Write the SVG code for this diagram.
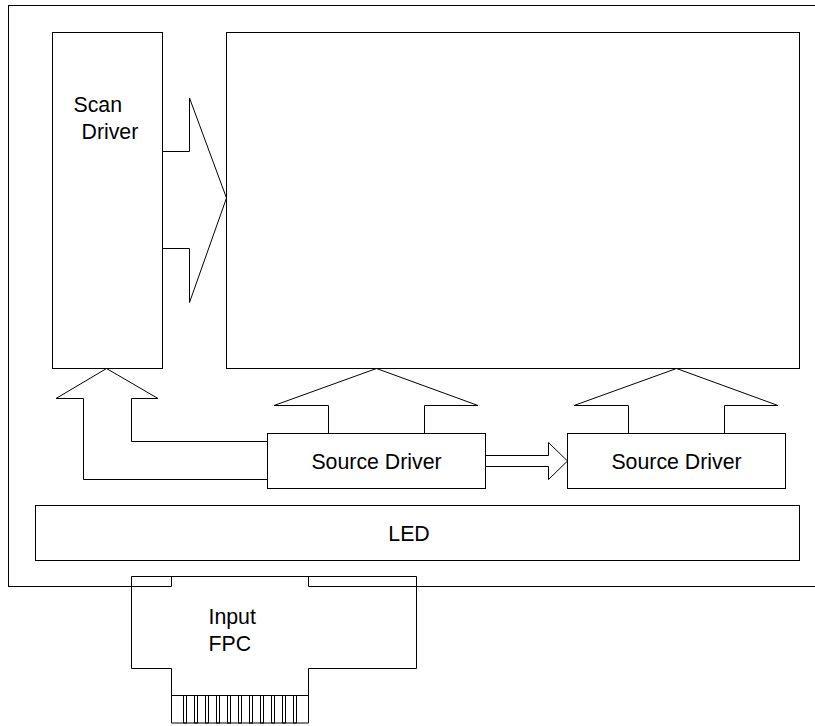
<svg xmlns="http://www.w3.org/2000/svg" width="815" height="726" viewBox="0 0 815 726">
<style>
.ln{fill:none;stroke:#000;stroke-width:1}
.box{fill:#fff;stroke:#000;stroke-width:1}
.t{font-family:"Liberation Sans",Arial,sans-serif;font-size:21.3px;fill:#000}
</style>
<rect width="815" height="726" fill="#fff"/>
<g id="frame">
<rect class="ln" x="8.5" y="5.5" width="830" height="581"/>
</g>
<g id="scan-driver">
<rect class="box" x="52.5" y="32.5" width="110" height="336"/>
<text class="t" x="73.5" y="111.5">Scan</text>
<text class="t" x="81.5" y="138.5">Driver</text>
</g>
<g id="panel">
<rect class="box" x="226.5" y="32.5" width="573" height="336"/>
</g>
<g id="source-driver-1">
<rect class="box" x="267.5" y="433.5" width="218" height="55"/>
<text class="t" x="376.5" y="468.5" text-anchor="middle">Source Driver</text>
</g>
<g id="source-driver-2">
<rect class="box" x="567.5" y="433.5" width="218" height="55"/>
<text class="t" x="676.5" y="468.5" text-anchor="middle">Source Driver</text>
</g>
<g id="led">
<rect class="box" x="35.5" y="505.5" width="764" height="55"/>
<text class="t" x="409" y="540.5" text-anchor="middle">LED</text>
</g>
<g id="input-fpc">
<path class="box" d="M131.5,576.5 H416.5 V668.5 H308.5 V723 H171.5 V668.5 H131.5 Z"/>
<path class="ln" d="M131.5,586.5 H171.5 V576.5 M308.5,576.5 V586.5 H416.5"/>
<path class="ln" d="M171.5,695.5 H308.5"/>
<g class="ln">
<rect x="183.5" y="695.5" width="3" height="27.5"/>
<rect x="194.5" y="695.5" width="3" height="27.5"/>
<rect x="205.5" y="695.5" width="3" height="27.5"/>
<rect x="216.5" y="695.5" width="3" height="27.5"/>
<rect x="227.5" y="695.5" width="3" height="27.5"/>
<rect x="238.5" y="695.5" width="3" height="27.5"/>
<rect x="249.5" y="695.5" width="3" height="27.5"/>
<rect x="260.5" y="695.5" width="3" height="27.5"/>
<rect x="271.5" y="695.5" width="3" height="27.5"/>
<rect x="282.5" y="695.5" width="3" height="27.5"/>
<rect x="293.5" y="695.5" width="3" height="27.5"/>
</g>
<text class="t" x="208.5" y="624">Input</text>
<text class="t" x="208.5" y="651">FPC</text>
</g>
<g id="connectors">
<path class="ln" d="M162.5,151.5 H189.5 V98 L226.5,198 L189.5,302.5 V248.5 H162.5"/>
<path class="ln" d="M267.5,479.5 H83.5 V398.5 H56 L106.5,368.5 L158,398.5 H131.5 V441.5 H267.5"/>
<path class="ln" d="M328.5,433.5 V405.5 H274 L376.5,368.5 L478,405.5 H424.5 V433.5"/>
<path class="ln" d="M628.5,433.5 V405.5 H574 L676.5,368.5 L778,405.5 H724.5 V433.5"/>
<path class="ln" d="M485.5,455.5 H548.5 V442.5 L567.5,461 L548.5,479.5 V466.5 H485.5"/>
</g>
</svg>
